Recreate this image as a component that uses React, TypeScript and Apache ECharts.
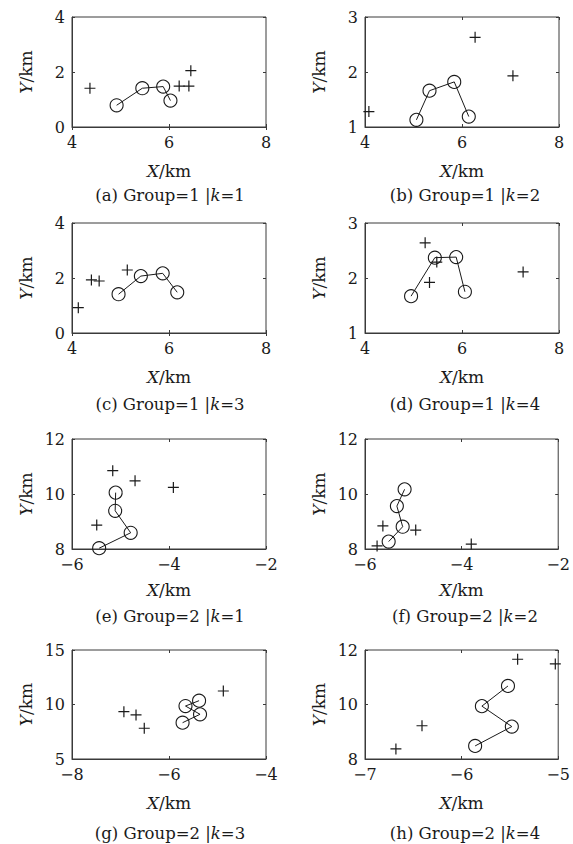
import React, { useEffect, useRef } from "react";
import * as echarts from "echarts";

// Panel captions (rich text: {i|...} = italic)
const captions = [
  "(a) Group=1 |{i|k}=1",
  "(b) Group=1 |{i|k}=2",
  "(c) Group=1 |{i|k}=3",
  "(d) Group=1 |{i|k}=4",
  "(e) Group=2 |{i|k}=1",
  "(f) Group=2 |{i|k}=2",
  "(g) Group=2 |{i|k}=3",
  "(h) Group=2 |{i|k}=4",
];

// Axis ranges [min, max, interval]
const xRanges = [
  [4, 8, 2], [4, 8, 2], [4, 8, 2], [4, 8, 2],
  [-6, -2, 2], [-6, -2, 2], [-8, -4, 2], [-7, -5, 1],
];
const yRanges = [
  [0, 4, 2], [1, 3, 1], [0, 4, 2], [1, 3, 1],
  [8, 12, 2], [8, 12, 2], [5, 15, 5], [8, 12, 2],
];

// Track estimates (circles joined by a line)
const trackA = [[4.92, 0.79], [5.45, 1.41], [5.88, 1.47], [6.03, 0.96]];
const trackB = [[5.06, 1.13], [5.33, 1.66], [5.84, 1.82], [6.14, 1.19]];
const trackC = [[4.96, 1.41], [5.42, 2.07], [5.87, 2.17], [6.17, 1.48]];
const trackD = [[4.95, 1.67], [5.44, 2.37], [5.88, 2.38], [6.06, 1.75]];
const trackE = [[-5.1, 10.05], [-5.11, 9.39], [-4.79, 8.59], [-5.44, 8.03]];
const trackF = [[-5.18, 10.17], [-5.34, 9.56], [-5.22, 8.81], [-5.51, 8.27]];
const trackG = [[-5.38, 10.35], [-5.66, 9.86], [-5.36, 9.1], [-5.72, 8.33]];
const trackH = [[-5.52, 10.68], [-5.79, 9.94], [-5.48, 9.19], [-5.86, 8.48]];

// Measurements (plus markers)
const measA = [[4.37, 1.41], [6.21, 1.49], [6.41, 1.49], [6.45, 2.05]];
const measB = [[4.08, 1.28], [6.27, 2.63], [7.05, 1.93]];
const measC = [[4.13, 0.92], [4.4, 1.93], [4.56, 1.89], [5.14, 2.29]];
const measD = [[5.24, 2.64], [5.48, 2.29], [5.33, 1.92], [7.26, 2.11]];
const measE = [[-5.16, 10.85], [-4.7, 10.48], [-3.91, 10.24], [-5.49, 8.87]];
const measF = [[-5.63, 8.84], [-4.95, 8.69], [-5.75, 8.11], [-3.8, 8.18]];
const measG = [[-6.93, 9.34], [-6.68, 9.04], [-6.51, 7.82], [-4.88, 11.24]];
const measH = [[-6.68, 8.37], [-6.41, 9.22], [-5.42, 11.66], [-5.03, 11.49]];

const tracks = [trackA, trackB, trackC, trackD, trackE, trackF, trackG, trackH];
const meas = [measA, measB, measC, measD, measE, measF, measG, measH];

const FONT = "DejaVu Serif";
const INK = "#1a1a1a";
const FRAME = "#3a3a3a";
const TICK_FS = 16;
const NAME_FS = 17;
const CAP_FS = 16.5;

const colLeft = [72, 365];
const rowTop = [17, 223, 439, 650];
const rowH = [110, 110, 110, 109];
const boxW = 194;
const captionY = [195, 404, 616, 833];
const captionX = [170, 465];
const xNameGap = [35, 35, 32, 35];

const minus = (v: number) => String(v).replace("-", "\u2212");

export default function App() {
  const ref = useRef<HTMLDivElement>(null);
  useEffect(() => {
    if (!ref.current) return;
    const chart = echarts.init(ref.current, undefined, { renderer: "svg" });
    const grids: any[] = [];
    const xAxes: any[] = [];
    const yAxes: any[] = [];
    const xAxes2: any[] = [];
    const yAxes2: any[] = [];
    const series: any[] = [];
    const graphics: any[] = [];
    const richI = {
      i: { fontStyle: "italic", fontFamily: FONT, fontSize: NAME_FS, color: INK },
    };
    for (let i = 0; i < 8; i++) {
      const r = Math.floor(i / 2);
      const c = i % 2;
      grids.push({
        left: colLeft[c],
        top: rowTop[r],
        width: boxW,
        height: rowH[r],
        show: true,
        borderColor: FRAME,
        borderWidth: 1,
        backgroundColor: "#fff",
      });
      const [x0, x1, xi] = xRanges[i];
      const [y0, y1, yi] = yRanges[i];
      xAxes.push({
        type: "value",
        gridIndex: i,
        min: x0,
        max: x1,
        interval: xi,
        position: "bottom",
        splitLine: { show: false },
        axisLine: { show: true, lineStyle: { color: FRAME, width: 1 } },
        axisTick: { show: true, inside: true, length: 3, lineStyle: { color: FRAME } },
        axisLabel: {
          show: true,
          margin: 7,
          fontFamily: FONT,
          fontSize: TICK_FS,
          color: INK,
          formatter: minus,
        },
        name: "{i|X}/km",
        nameLocation: "middle",
        nameGap: xNameGap[r],
        nameTextStyle: { fontFamily: FONT, fontSize: NAME_FS, color: INK, rich: richI },
      });
      yAxes.push({
        type: "value",
        gridIndex: i,
        min: y0,
        max: y1,
        interval: yi,
        position: "left",
        splitLine: { show: false },
        axisLine: { show: true, lineStyle: { color: FRAME, width: 1 } },
        axisTick: { show: true, inside: true, length: 3, lineStyle: { color: FRAME } },
        axisLabel: {
          show: true,
          margin: 7,
          fontFamily: FONT,
          fontSize: TICK_FS,
          color: INK,
          formatter: minus,
        },
        name: "{i|Y}/km",
        nameLocation: "middle",
        nameGap: 38,
        nameTextStyle: { fontFamily: FONT, fontSize: NAME_FS, color: INK, rich: richI },
      });
      xAxes2.push({
        type: "value",
        gridIndex: i,
        min: x0,
        max: x1,
        interval: xi,
        position: "top",
        splitLine: { show: false },
        axisLine: { show: false },
        axisTick: { show: true, inside: true, length: 3, lineStyle: { color: FRAME } },
        axisLabel: { show: false },
      });
      yAxes2.push({
        type: "value",
        gridIndex: i,
        min: y0,
        max: y1,
        interval: yi,
        position: "right",
        splitLine: { show: false },
        axisLine: { show: false },
        axisTick: { show: true, inside: true, length: 3, lineStyle: { color: FRAME } },
        axisLabel: { show: false },
      });
      series.push({
        type: "line",
        xAxisIndex: i,
        yAxisIndex: i,
        data: tracks[i],
        symbol: "circle",
        symbolSize: 13,
        showSymbol: true,
        lineStyle: { color: INK, width: 1 },
        itemStyle: { color: "transparent", borderColor: INK, borderWidth: 1.1 },
        clip: false,
        z: 3,
      });
      series.push({
        type: "scatter",
        xAxisIndex: i,
        yAxisIndex: i,
        data: meas[i],
        symbol: "path://M0,5L10,5M5,0L5,10",
        symbolSize: 11,
        itemStyle: { color: "transparent", borderColor: INK, borderWidth: 1.2, opacity: 1 },
        z: 3,
      });
      graphics.push({
        type: "text",
        x: captionX[c],
        y: captionY[r],
        style: {
          text: captions[i],
          fontFamily: FONT,
          fontSize: CAP_FS,
          fill: INK,
          align: "center",
          verticalAlign: "middle",
          textAlign: "center",
          textVerticalAlign: "middle",
          rich: {
            i: { fontStyle: "italic", fontFamily: FONT, fontSize: CAP_FS, fill: INK },
          },
        },
      });
    }
    chart.setOption({
      animation: false,
      backgroundColor: "#fff",
      grid: grids,
      xAxis: [...xAxes, ...xAxes2],
      yAxis: [...yAxes, ...yAxes2],
      series,
      graphic: graphics,
    });
    return () => chart.dispose();
  }, []);
  return (
    <div
      ref={ref}
      style={{ position: "absolute", left: 0, top: 0, width: 573, height: 844 }}
    />
  );
}
